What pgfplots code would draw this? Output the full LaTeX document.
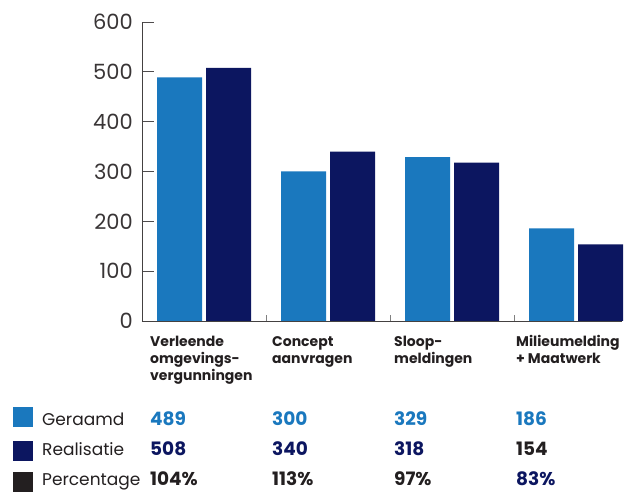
\documentclass[border=0pt]{standalone}
\usepackage{fontspec}
\setmainfont{Poppins}
\usepackage{pgfplots}
\pgfplotsset{compat=1.18}
\definecolor{lblue}{HTML}{1A78BE}
\definecolor{navy}{HTML}{0C1660}
\definecolor{txt}{HTML}{231F20}
\begin{document}
\begin{tikzpicture}
\useasboundingbox (-142pt,-171pt) rectangle (483pt,321pt);
\begin{axis}[
 at={(0pt,0pt)}, anchor=south west,
 scale only axis, width=480pt, height=299pt,
 xmin=-0.5, xmax=3.37, ymin=0, ymax=600,
 ybar=4pt, bar width=45pt,
 axis x line=bottom, axis y line=left,
 axis line style={-, draw=txt!85, line width=0.9pt},
 xtick=\empty,
 ytick={0,100,...,600},
 tick align=inside,
 major tick length=12pt,
 y tick style={draw=txt!80, line width=0.9pt},
 yticklabel style={font=\fontsize{21}{21}\selectfont, text=txt!90, inner sep=0pt, xshift=-9pt},
 /pgf/number format/assume math mode=true,
 clip=false,
]
\addplot[fill=lblue, draw=none] coordinates {(0,489) (1,300) (2,329) (3,186)};
\addplot[fill=navy, draw=none] coordinates {(0,508) (1,340) (2,318) (3,154)};
\draw[gray, line width=0.9pt] (axis cs:0.5,0) -- (axis cs:0.5,12);
\draw[gray, line width=0.9pt] (axis cs:1.5,0) -- (axis cs:1.5,12);
\draw[gray, line width=0.9pt] (axis cs:2.5,0) -- (axis cs:2.5,12);
\end{axis}
\begin{scope}[every node/.style={anchor=base west, inner sep=0pt, text=txt, font=\fontsize{14}{17}\selectfont\bfseries}]
\node at (8pt,-26pt) {Verleende};
\node at (8pt,-43pt) {omgevings-};
\node at (8pt,-60pt) {vergunningen};
\node at (130pt,-26pt) {Concept};
\node at (130pt,-43pt) {aanvragen};
\node at (252pt,-26pt) {Sloop-};
\node at (252pt,-43pt) {meldingen};
\node at (374pt,-26pt) {Milieumelding};
\node at (374pt,-43pt) {+ Maatwerk};
\end{scope}
\fill[lblue] (-129pt,-86pt) rectangle (-109pt,-106pt);
\fill[navy] (-129pt,-120pt) rectangle (-109pt,-140pt);
\fill[txt] (-129pt,-151pt) rectangle (-109pt,-171pt);
\begin{scope}[every node/.style={anchor=base west, inner sep=0pt, text=txt, font=\fontsize{17}{18}\selectfont}]
\node at (-100pt,-105pt) {Geraamd};
\node at (-100pt,-135pt) {Realisatie};
\node at (-100pt,-165pt) {Percentage};
\end{scope}
\begin{scope}[every node/.style={anchor=base west, inner sep=0pt, font=\fontsize{18.5}{19}\selectfont\bfseries}]
\node[text=lblue] at (8pt,-105pt) {489};
\node[text=lblue] at (130pt,-105pt) {300};
\node[text=lblue] at (252pt,-105pt) {329};
\node[text=lblue] at (374pt,-105pt) {186};
\node[text=navy] at (8pt,-135pt) {508};
\node[text=navy] at (130pt,-135pt) {340};
\node[text=navy] at (252pt,-135pt) {318};
\node[text=txt] at (374pt,-135pt) {154};
\node[text=txt] at (8pt,-165pt) {104\%};
\node[text=txt] at (130pt,-165pt) {113\%};
\node[text=txt] at (252pt,-165pt) {97\%};
\node[text=navy] at (374pt,-165pt) {83\%};
\end{scope}
\end{tikzpicture}
\end{document}
